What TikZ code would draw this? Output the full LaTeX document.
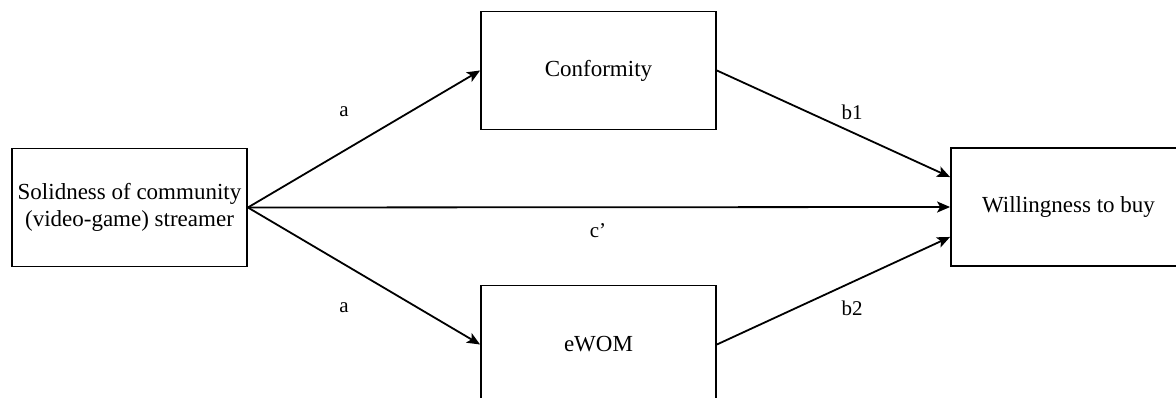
\documentclass[tikz,border=0pt]{standalone}
\usepackage{fontspec}
\setmainfont{Liberation Serif}
\usetikzlibrary{arrows.meta,calc}
\begin{document}
\begin{tikzpicture}[x=1pt,y=-1pt,
  box/.style={draw=black,line width=1.8pt,minimum width=235pt,minimum height=118pt,inner sep=0pt,align=center,font=\fontsize{23}{27.6}\selectfont},
  conn/.style={line width=1.8pt,-{Stealth[length=13pt,width=11pt,inset=3pt]}},
  lbl/.style={font=\fontsize{21}{25}\selectfont,inner sep=0pt}]
\useasboundingbox (0,0) rectangle (1176,398);
\clip (0,0) rectangle (1176,398);
\node[box] (src) at (129.5,207.5) {Solidness of community\\(video-game) streamer};
\node[box] (conf) at (598.5,70.5) {Conformity};
\node[box] (ewom) at (598.5,344.5) {eWOM};
\node[box] (will) at (1068.5,207) {Willingness to buy};
\coordinate (w1) at ($(will.north west)!0.25!(will.south west)$);
\coordinate (w3) at ($(will.north west)!0.75!(will.south west)$);
\draw[conn] (src.east) -- (conf.west);
\draw[conn] (src.east) -- (ewom.west);
\draw[conn] (src.east) -- (will.west);
\draw[conn] (conf.east) -- (w1);
\draw[conn] (ewom.east) -- (w3);
\node[lbl] (la1) at (344,112) {a};
\node[lbl] (la2) at (344,308) {a};
\node[lbl] (lb1) at (852,112) {b1};
\node[lbl] (lb2) at (852,308) {b2};
\node[lbl] (lc) at (598,231) {c'};
\end{tikzpicture}
\end{document}
